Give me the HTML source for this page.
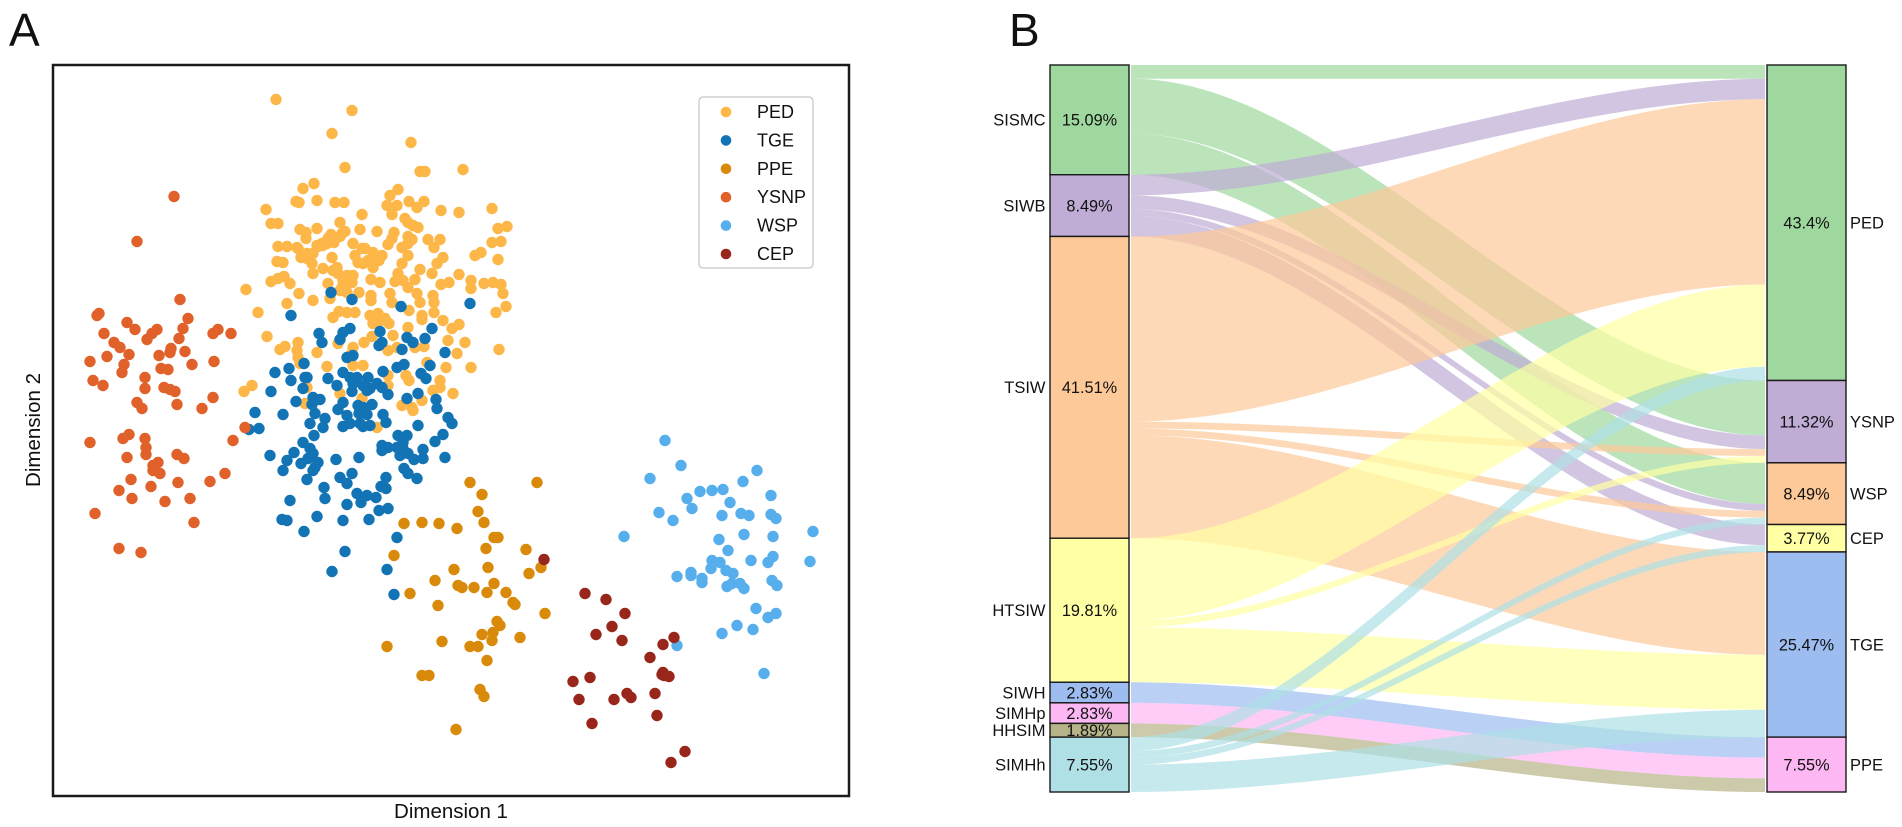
<!DOCTYPE html>
<html lang="en">
<head>
<meta charset="utf-8">
<title>Scatter and Sankey figure</title>
<style>
html,body{margin:0;padding:0;background:#fff;width:1902px;height:827px;overflow:hidden}
svg{display:block}
text{font-family:"Liberation Sans",Arial,sans-serif;fill:#111}
</style>
</head>
<body>
<svg id="figure" xmlns="http://www.w3.org/2000/svg" width="1902" height="827" viewBox="0 0 1902 827">
  <rect x="0" y="0" width="1902" height="827" fill="#fff"/>
  <text x="9" y="46" font-size="46">A</text>
  <text x="1009" y="46" font-size="46">B</text>
  <g id="scatter-points"></g>
  <rect x="53" y="65" width="796" height="731" fill="none" stroke="#1a1a1a" stroke-width="2.5"/>
  <text x="451" y="818" font-size="20.5" text-anchor="middle">Dimension 1</text>
  <text transform="translate(40,430) rotate(-90)" font-size="20.5" text-anchor="middle">Dimension 2</text>
  <rect x="699" y="97" width="114" height="171" rx="4" ry="4" fill="#fff" fill-opacity="0.85" stroke="#cfcfcf" stroke-width="1.5"/>
  <g id="legend"></g>
  <g id="sankey-flows"></g>
  <g id="sankey-nodes"></g>
</svg>
<script>
var seriesNames = ["PED", "TGE", "PPE", "YSNP", "WSP", "CEP"];
var seriesColors = ["#fdb648", "#1273b5", "#d98a0a", "#e0612a", "#57aeec", "#98261a"];

var pedPoints = [[-175,331],[-99,320],[-119,297],[-40,288],[-106,263],[-31,259],[-26,259],[12,261],[-137,247],[-148,242],[-53,241],[-61,235],[-155,229],[-152,228],[-134,230],[-116,228],[-107,228],[-64,225],[-54,225],[-59,216],[-42,229],[-34,223],[-27,229],[-10,220],[8,218],[41,222],[-185,221],[-180,207],[-173,207],[-89,216],[-151,201],[-145,198],[-145,192],[-134,202],[-111,208],[-91,201],[-106,199],[-111,194],[-117,192],[-117,188],[-123,192],[-129,187],[-134,185],[-74,199],[-57,198],[-59,192],[-63,186],[-46,212],[-43,208],[-38,205],[-33,203],[-43,194],[-39,191],[-43,187],[-23,191],[-11,191],[-17,183],[47,202],[56,204],[41,188],[50,189],[24,175],[30,178],[47,171],[-173,184],[-164,184],[-154,183],[-98,187],[-86,182],[-78,178],[-69,175],[-96,175],[-88,167],[-78,163],[-72,170],[-93,168],[-49,183],[-43,175],[-49,167],[-53,157],[-56,149],[-8,173],[-14,167],[-19,157],[-31,161],[8,156],[-10,146],[-2,148],[20,150],[20,142],[33,147],[42,148],[50,146],[52,137],[55,124],[45,118],[-150,173],[-144,172],[-138,177],[-139,167],[-138,157],[-119,173],[-133,184],[-124,187],[-174,169],[-168,168],[-180,149],[-173,152],[-167,154],[-161,147],[-205,141],[-152,137],[-164,127],[-193,118],[-184,94],[-128,162],[-118,160],[-113,157],[-104,155],[-98,155],[-108,150],[-99,148],[-106,145],[-111,140],[-123,147],[-121,132],[-92,138],[-80,151],[-71,148],[-80,135],[-80,130],[-48,150],[-36,151],[-43,143],[-34,137],[-31,128],[-18,135],[-17,128],[-17,118],[-8,110],[1,102],[8,106],[-29,115],[-29,111],[-42,120],[-61,137],[-59,128],[-104,118],[-96,118],[-81,115],[-73,117],[-78,107],[-66,112],[-62,107],[-43,103],[-58,95],[-87,88],[-79,94],[-3,90],[14,88],[6,77],[48,81],[-63,80],[-54,83],[-36,83],[-27,84],[-98,83],[-5,63],[20,63],[-24,68],[-45,55],[-42,50],[-63,55],[-63,45],[-88,65],[-11,50],[-11,43],[-18,40],[2,37],[-49,25],[-39,23],[-29,30],[-38,20],[-166,84],[-171,81],[-153,88],[-154,80],[-153,73],[-151,67],[-134,78],[-113,87],[-101,75],[-124,64],[-98,65],[-207,39],[-199,45],[-144,43],[-111,37],[-146,27],[-89,32],[-74,3],[-153,182],[-144,177],[-128,185],[-109,197],[-114,163],[-109,143],[-104,138],[-120,196],[-89,182],[-83,170],[-112,119],[-138,130],[-118,113],[-70,110]];
var tgePoints = [[-120,138],[-99,131],[-50,124],[19,127],[-160,115],[-132,97],[-129,88],[-101,102],[-108,98],[-111,91],[-71,99],[-69,88],[-72,85],[-44,93],[-38,88],[-26,92],[-19,102],[-49,81],[-6,78],[-98,75],[-104,73],[-147,67],[-162,62],[-176,58],[-146,53],[-144,53],[-160,50],[-148,42],[-180,39],[-123,52],[-108,58],[-101,53],[-94,53],[-114,45],[-98,47],[-88,45],[-83,53],[-84,40],[-74,47],[-69,43],[-63,36],[-81,42],[-68,59],[-54,63],[-47,66],[-21,65],[-30,57],[-25,52],[-99,39],[-44,32],[-33,37],[-15,31],[-14,22],[-155,29],[-138,33],[-131,31],[-139,26],[-136,17],[-108,28],[-113,21],[-79,26],[-93,25],[-88,23],[-92,17],[-84,16],[-68,16],[-65,8],[-196,18],[-168,16],[-104,15],[-101,7],[-108,4],[-91,7],[-81,5],[-88,4],[-126,12],[-128,3],[-141,7],[-33,5],[-3,13],[1,7],[-137,-5],[-148,-12],[-8,-4],[-16,-11],[-141,-18],[-138,-23],[-143,-28],[-133,-32],[-136,-37],[-138,-40],[-115,-29],[-92,-27],[-69,-15],[-69,-20],[-63,-17],[-53,-5],[-44,-5],[-54,-17],[-48,-18],[-51,-25],[-43,-23],[-48,-12],[-37,-29],[-28,-28],[-28,-19],[-6,-27],[-47,-38],[-43,-43],[-34,-48],[-144,-49],[-111,-47],[-104,-53],[-99,-43],[-65,-47],[-70,-56],[-65,-58],[-127,-57],[-126,-68],[-94,-63],[-90,-72],[-84,-65],[-75,-67],[-104,-74],[-72,-80],[-63,-78],[-134,-86],[-108,-90],[-82,-89],[-147,-101],[-54,-107],[-106,-121],[-119,-141],[-64,-139],[-57,-164],[-202,1],[-192,2],[-157,-22],[-164,-30],[-150,-33],[-169,-89],[-164,-90],[-168,-40],[-161,-70],[-181,-25]];
var ppePoints = [[19,-52],[31,-64],[86,-52],[27,-81],[33,-92],[-47,-93],[-29,-92],[-12,-93],[6,-98],[43,-107],[47,-107],[35,-118],[75,-119],[-57,-125],[37,-137],[3,-139],[90,-137],[78,-143],[-16,-150],[43,-153],[7,-155],[11,-157],[23,-157],[36,-162],[55,-162],[-41,-163],[62,-172],[64,-174],[-13,-175],[94,-183],[46,-191],[49,-195],[42,-202],[41,-210],[31,-204],[69,-207],[-9,-211],[-64,-216],[19,-216],[27,-216],[36,-230],[-29,-245],[-22,-245],[29,-259],[33,-266],[5,-299]];
var ysnpPoints = [[-277,234],[-314,189],[-271,131],[-263,112],[-354,115],[-352,117],[-324,108],[-316,101],[-268,102],[-272,92],[-294,101],[-299,97],[-304,91],[-347,97],[-233,101],[-238,97],[-220,97],[-337,88],[-331,83],[-280,82],[-281,78],[-266,79],[-344,74],[-322,76],[-292,75],[-361,69],[-259,66],[-237,69],[-327,66],[-329,58],[-290,62],[-283,61],[-358,50],[-348,45],[-306,53],[-306,42],[-287,43],[-281,41],[-276,39],[-314,28],[-309,22],[-274,26],[-238,33],[-249,22],[-206,3],[-218,-10],[-361,-12],[-322,-4],[-328,-8],[-306,-8],[-305,-17],[-305,-24],[-324,-27],[-274,-24],[-267,-28],[-293,-32],[-298,-35],[-298,-40],[-291,-43],[-320,-49],[-273,-52],[-241,-51],[-226,-43],[-332,-60],[-300,-56],[-319,-68],[-286,-71],[-261,-68],[-356,-83],[-257,-92],[-332,-118],[-310,-122]];
var wspPoints = [[214,-10],[230,-35],[199,-48],[306,-40],[292,-51],[249,-61],[261,-60],[272,-59],[236,-68],[320,-65],[279,-72],[241,-78],[208,-82],[222,-90],[271,-85],[290,-83],[298,-85],[320,-84],[325,-88],[362,-101],[173,-106],[293,-104],[322,-106],[268,-109],[277,-120],[322,-126],[317,-132],[300,-130],[359,-131],[261,-130],[269,-132],[260,-138],[275,-140],[282,-143],[226,-146],[240,-142],[240,-145],[251,-148],[251,-152],[276,-156],[281,-153],[289,-153],[293,-158],[321,-150],[326,-155],[305,-178],[325,-183],[317,-187],[286,-195],[302,-199],[271,-203],[226,-215],[313,-243]];
var cepPoints = [[93,-129],[134,-163],[155,-169],[174,-183],[161,-196],[145,-204],[171,-210],[223,-207],[212,-214],[199,-227],[212,-242],[211,-244],[218,-246],[213,-245],[139,-247],[122,-251],[128,-269],[163,-269],[176,-263],[180,-267],[204,-263],[206,-285],[141,-293],[234,-321],[220,-332]];

var leftNames = ["SISMC", "SIWB", "TSIW", "HTSIW", "SIWH", "SIMHp", "HHSIM", "SIMHh"];
var leftPercents = ["15.09%", "8.49%", "41.51%", "19.81%", "2.83%", "2.83%", "1.89%", "7.55%"];
var rightNames = ["PED", "YSNP", "WSP", "CEP", "TGE", "PPE"];
var rightPercents = ["43.4%", "11.32%", "8.49%", "3.77%", "25.47%", "7.55%"];
var leftColors = ["#9fd89e", "#bfadd6", "#fdc999", "#ffffa3", "#9dbcf0", "#fdb7f3", "#b6b488", "#aee0e6"];
var rightColors = ["#9fd89e", "#bfadd6", "#fdc999", "#ffffa3", "#9dbcf0", "#fdb7f3"];
/* counts per source, in target order PED, YSNP, WSP, CEP, TGE, PPE */
var sismcFlows = [2, 8, 6, 0, 0, 0];
var siwbFlows = [3, 2, 1, 3, 0, 0];
var tsiwFlows = [27, 1, 1, 0, 15, 0];
var htsiwFlows = [12, 1, 0, 0, 8, 0];
var siwhFlows = [0, 0, 0, 0, 0, 3];
var simhpFlows = [0, 0, 0, 0, 0, 3];
var hhsimFlows = [0, 0, 0, 0, 0, 2];
var simhhFlows = [2, 0, 1, 1, 4, 0];

var SVGNS = "http://www.w3.org/2000/svg";
var pointSets = [pedPoints, tgePoints, ppePoints, ysnpPoints, wspPoints, cepPoints];
var flowMatrix = [sismcFlows, siwbFlows, tsiwFlows, htsiwFlows, siwhFlows, simhpFlows, hhsimFlows, simhhFlows];

function xScale(v) { return 53 + (v + 398) / 796 * 796; }
function yScale(v) { return 430.5 - (v / 365.5) * 365.5; }

var pointsGroup = document.getElementById("scatter-points");
pointSets.forEach(function (pts, s) {
  pts.forEach(function (p) {
    var el = document.createElementNS(SVGNS, "circle");
    el.setAttribute("cx", xScale(p[0]));
    el.setAttribute("cy", yScale(p[1]));
    el.setAttribute("r", 5.7);
    el.setAttribute("fill", seriesColors[s]);
    
    
    pointsGroup.appendChild(el);
  });
});

var legendGroup = document.getElementById("legend");
seriesNames.forEach(function (name, i) {
  var y = 112 + i * 28.4;
  var m = document.createElementNS(SVGNS, "circle");
  m.setAttribute("cx", 726);
  m.setAttribute("cy", y);
  m.setAttribute("r", 5.3);
  m.setAttribute("fill", seriesColors[i]);
  
  
  legendGroup.appendChild(m);
  var t = document.createElementNS(SVGNS, "text");
  t.setAttribute("x", 757);
  t.setAttribute("y", y + 6);
  t.setAttribute("font-size", 18);
  t.textContent = name;
  
  
  legendGroup.appendChild(t);
});

/* sankey */
var sankeyTop = 65, sankeyHeight = 727;
var leftTotals = flowMatrix.map(function (r) { return r.reduce(function (a, b) { return a + b; }, 0); });
var rightTotals = rightNames.map(function (_, j) { return flowMatrix.reduce(function (a, r) { return a + r[j]; }, 0); });
var grandTotal = leftTotals.reduce(function (a, b) { return a + b; }, 0);
function unitScale(v) { return v / grandTotal * sankeyHeight; }

var flowLeft = 1131, flowRight = 1765;
var leftCursor = sankeyTop;
var rightStarts = [];
var rc = sankeyTop;
rightTotals.forEach(function (t) { rightStarts.push(rc); rc += unitScale(t); });
var rightCursors = rightStarts.slice();
var flowsGroup = document.getElementById("sankey-flows");
var L = flowRight - flowLeft;

flowMatrix.forEach(function (row, i) {
  row.forEach(function (count, j) {
    if (!count) return;
    var h = unitScale(count);
    var y0 = leftCursor, y1 = rightCursors[j];
    var c1 = flowLeft + L / 3, c2 = flowLeft + 2 * L / 3;
    var d = "M" + flowLeft + " " + y0 +
      " C" + c1 + " " + y0 + " " + c2 + " " + y1 + " " + flowRight + " " + y1 +
      " L" + flowRight + " " + (y1 + h) +
      " C" + c2 + " " + (y1 + h) + " " + c1 + " " + (y0 + h) + " " + flowLeft + " " + (y0 + h) + " Z";
    var el = document.createElementNS(SVGNS, "path");
    el.setAttribute("d", d);
    el.setAttribute("fill", leftColors[i]);
    el.setAttribute("fill-opacity", 0.7);
    
    
    flowsGroup.appendChild(el);
    leftCursor += h;
    rightCursors[j] += h;
  });
});

var nodesGroup = document.getElementById("sankey-nodes");
function drawColumn(names, percents, colors, totals, x, w, labelX, anchor, prefix) {
  var y = sankeyTop;
  names.forEach(function (name, i) {
    var h = unitScale(totals[i]);
    var r = document.createElementNS(SVGNS, "rect");
    r.setAttribute("x", x);
    r.setAttribute("y", y);
    r.setAttribute("width", w);
    r.setAttribute("height", h);
    r.setAttribute("fill", colors[i]);
    r.setAttribute("stroke", "#1a1a1a");
    r.setAttribute("stroke-width", 1.4);
    
    
    nodesGroup.appendChild(r);
    var cy = y + h / 2 + 5.8;
    var pct = document.createElementNS(SVGNS, "text");
    pct.setAttribute("x", x + w / 2);
    pct.setAttribute("y", cy);
    pct.setAttribute("font-size", 16.3);
    pct.setAttribute("text-anchor", "middle");
    pct.textContent = percents[i];
    
    
    nodesGroup.appendChild(pct);
    var lab = document.createElementNS(SVGNS, "text");
    lab.setAttribute("x", labelX);
    lab.setAttribute("y", cy);
    lab.setAttribute("font-size", 16.5);
    lab.setAttribute("text-anchor", anchor);
    lab.textContent = name;
    
    
    nodesGroup.appendChild(lab);
    y += h;
  });
}
drawColumn(leftNames, leftPercents, leftColors, leftTotals, 1050, 79, 1045.5, "end", "source");
drawColumn(rightNames, rightPercents, rightColors, rightTotals, 1767, 79, 1850, "start", "target");
</script>
</body>
</html>
